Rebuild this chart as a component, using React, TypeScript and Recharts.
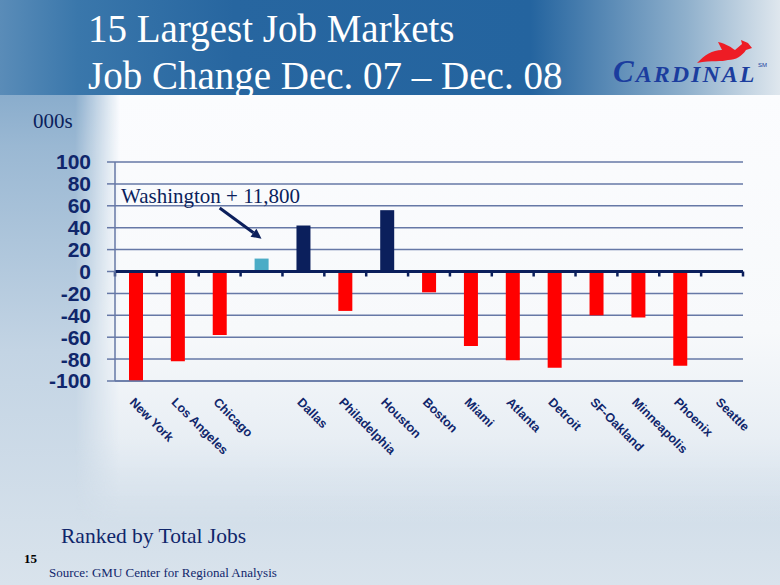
import {
  BarChart,
  Bar,
  XAxis,
  YAxis,
  CartesianGrid,
  Cell,
  ReferenceLine,
} from 'recharts'

// job change Dec 07 - Dec 08, thousands
const categories = [
  'New York', 'Los Angeles', 'Chicago', 'Washington', 'Dallas', 'Philadelphia', 'Houston',
  'Boston', 'Miami', 'Atlanta', 'Detroit', 'SF-Oakland', 'Minneapolis', 'Phoenix', 'Seattle',
]
const tickLabels = [
  'New York', 'Los Angeles', 'Chicago', '', 'Dallas', 'Philadelphia', 'Houston',
  'Boston', 'Miami', 'Atlanta', 'Detroit', 'SF-Oakland', 'Minneapolis', 'Phoenix', 'Seattle',
]
const jobChange = [-100, -82, -58, 11.8, 42, -36, 56, -19, -68, -81, -88, -40, -42, -86, 0]
const yTicks = [-100, -80, -60, -40, -20, 0, 20, 40, 60, 80, 100]
const highlighted = 'Washington'

const NAVY = '#0b1f5c'
const TEXT = '#10266b'
const GRID = '#6678a6'
const SERIF = '"Liberation Serif", "Times New Roman", serif'
const SANS = '"Liberation Sans", Arial, sans-serif'

const data = categories.map((name, i) => ({ name, value: jobChange[i] }))

function barColor(d: { name: string; value: number }) {
  if (d.name === highlighted) return '#4bacc6'
  return d.value < 0 ? '#ff0000' : NAVY
}

// eslint-disable-next-line @typescript-eslint/no-explicit-any
const CityTick = (props: any) => {
  const { x, y, payload } = props
  const label = tickLabels[categories.indexOf(payload.value)]
  const tx = x - 7
  const ty = y + 22
  return (
    <text
      x={tx}
      y={ty}
      transform={`rotate(45 ${tx} ${ty})`}
      textAnchor="start"
      fontFamily={SANS}
      fontWeight="bold"
      fontSize={12.5}
      fill={TEXT}
    >
      {label}
    </text>
  )
}

// zero axis with small tick marks at category boundaries
// eslint-disable-next-line @typescript-eslint/no-explicit-any
const ZeroLine = (props: any) => {
  const { x1, x2, y1 } = props
  const n = categories.length
  const step = (x2 - x1) / n
  return (
    <g>
      <line x1={x1} x2={x2} y1={y1} y2={y1} stroke={NAVY} strokeWidth={3} />
      {Array.from({ length: n + 1 }, (_, k) => (
        <line key={k} x1={x1 + k * step} x2={x1 + k * step} y1={y1} y2={y1 + 5} stroke={NAVY} strokeWidth={2.5} />
      ))}
    </g>
  )
}

// eslint-disable-next-line @typescript-eslint/no-explicit-any
const Arrow = (props: any) => {
  const { x1, y1, x2, y2 } = props
  const a = Math.atan2(y2 - y1, x2 - x1)
  const h = 10
  const w = 5
  const bx = x2 - h * Math.cos(a)
  const by = y2 - h * Math.sin(a)
  const pts = [
    [x2, y2],
    [bx + w * Math.sin(a), by - w * Math.cos(a)],
    [bx - w * Math.sin(a), by + w * Math.cos(a)],
  ]
  return (
    <g>
      <line x1={x1} y1={y1} x2={bx} y2={by} stroke={NAVY} strokeWidth={3} />
      <polygon points={pts.map(p => p.join(',')).join(' ')} fill={NAVY} />
    </g>
  )
}

export default function App() {
  return (
    <div
      style={{
        position: 'absolute',
        left: 0,
        top: 0,
        width: 780,
        height: 585,
        overflow: 'hidden',
        background: 'linear-gradient(180deg, #6c98c0 0%, #9ab8d3 25%, #c3d4e4 60%, #d9e3ec 100%)',
      }}
    >
      {/* top band */}
      <div
        style={{
          position: 'absolute',
          left: 0,
          top: 0,
          width: 780,
          height: 95,
          background:
            'linear-gradient(90deg, #5a8cb8 0%, #3a77ab 10%, #2766a0 30%, #24649f 68%, #8fb0cc 88%, #dfe7ee 100%)',
        }}
      />
      {/* white panel, fading out at left and bottom */}
      <div
        style={{
          position: 'absolute',
          left: 75,
          top: 95,
          width: 705,
          height: 430,
          background: 'linear-gradient(180deg, #fbfcfe 0%, #f7f9fb 55%, #e8eef4 80%, rgba(217,227,236,0) 100%)',
          WebkitMaskImage: 'linear-gradient(90deg, transparent 0px, #000 45px)',
          maskImage: 'linear-gradient(90deg, transparent 0px, #000 45px)',
        }}
      />
      <div
        style={{
          position: 'absolute',
          left: 88,
          top: 5,
          color: '#ffffff',
          fontFamily: SERIF,
          fontSize: 39,
          lineHeight: '47px',
          whiteSpace: 'nowrap',
        }}
      >
        15 Largest Job Markets
        <br />
        Job Change Dec. 07 – Dec. 08
      </div>

      <svg style={{ position: 'absolute', left: 590, top: 35 }} width={190} height={60}>
        <path
          d="M107,28 C115,20 122,15 132,15 L128,7 C137,9 142,13 145,15 L152,9 L151,5 L158,8 L162,13 L156,15 C152,21 146,25 138,25 C132,27 122,25 107,28 Z"
          fill="#ee1c25"
        />
        <text x={23} y={47} fontFamily={SERIF} fontStyle="italic" fontWeight="bold" fill="#1b3d9e" letterSpacing={2}>
          <tspan fontSize={31}>C</tspan>
          <tspan fontSize={24}>ARDINAL</tspan>
        </text>
        <text x={168} y={32} fontFamily={SANS} fontSize={6} fill="#1b3d9e">
          SM
        </text>
      </svg>

      <div
        style={{
          position: 'absolute',
          left: 33,
          top: 111,
          color: NAVY,
          fontFamily: SERIF,
          fontSize: 21,
          lineHeight: '21px',
        }}
      >
        000s
      </div>

      <div style={{ position: 'absolute', left: 0, top: 0 }}>
        <BarChart width={780} height={585} data={data} margin={{ top: 162, right: 37, bottom: 104, left: 0 }}>
          <CartesianGrid vertical={false} stroke={GRID} strokeWidth={1.5} />
          <XAxis
            dataKey="name"
            height={100}
            interval={0}
            tickLine={false}
            tickSize={0}
            tickMargin={0}
            axisLine={{ stroke: GRID, strokeWidth: 1.5 }}
            tick={<CityTick />}
          />
          <YAxis
            width={115}
            domain={[-100, 100]}
            ticks={yTicks}
            interval={0}
            tickSize={8}
            tickMargin={16}
            axisLine={{ stroke: GRID, strokeWidth: 1.5 }}
            tickLine={{ stroke: GRID, strokeWidth: 1.5 }}
            tick={{ fontFamily: SANS, fontWeight: 'bold', fontSize: 21, fill: TEXT }}
          />
          <YAxis
            yAxisId="frame"
            orientation="right"
            width={0}
            tick={false}
            tickLine={false}
            axisLine={{ stroke: GRID, strokeWidth: 1.5 }}
          />
          <Bar dataKey="value" barSize={14} isAnimationActive={false}>
            {data.map((d, i) => (
              <Cell key={i} fill={barColor(d)} />
            ))}
          </Bar>
          <ReferenceLine y={0} shape={ZeroLine} />
          <ReferenceLine
            segment={[
              { x: 'Chicago', y: 58 },
              { x: highlighted, y: 30 },
            ]}
            shape={Arrow}
          />
        </BarChart>
      </div>

      <div
        style={{
          position: 'absolute',
          left: 121,
          top: 186,
          color: NAVY,
          fontFamily: SERIF,
          fontSize: 21,
          lineHeight: '21px',
          whiteSpace: 'nowrap',
        }}
      >
        Washington + 11,800
      </div>

      <div
        style={{
          position: 'absolute',
          left: 61,
          top: 526,
          color: TEXT,
          fontFamily: SERIF,
          fontSize: 21.5,
          lineHeight: '21.5px',
          whiteSpace: 'nowrap',
        }}
      >
        Ranked by Total Jobs
      </div>
      <div
        style={{
          position: 'absolute',
          left: 24,
          top: 552,
          color: '#000000',
          fontFamily: SERIF,
          fontWeight: 'bold',
          fontSize: 13,
          lineHeight: '13px',
        }}
      >
        15
      </div>
      <div
        style={{
          position: 'absolute',
          left: 49,
          top: 566,
          color: TEXT,
          fontFamily: SERIF,
          fontSize: 13,
          lineHeight: '13px',
          whiteSpace: 'nowrap',
        }}
      >
        Source: GMU Center for Regional Analysis
      </div>
    </div>
  )
}
